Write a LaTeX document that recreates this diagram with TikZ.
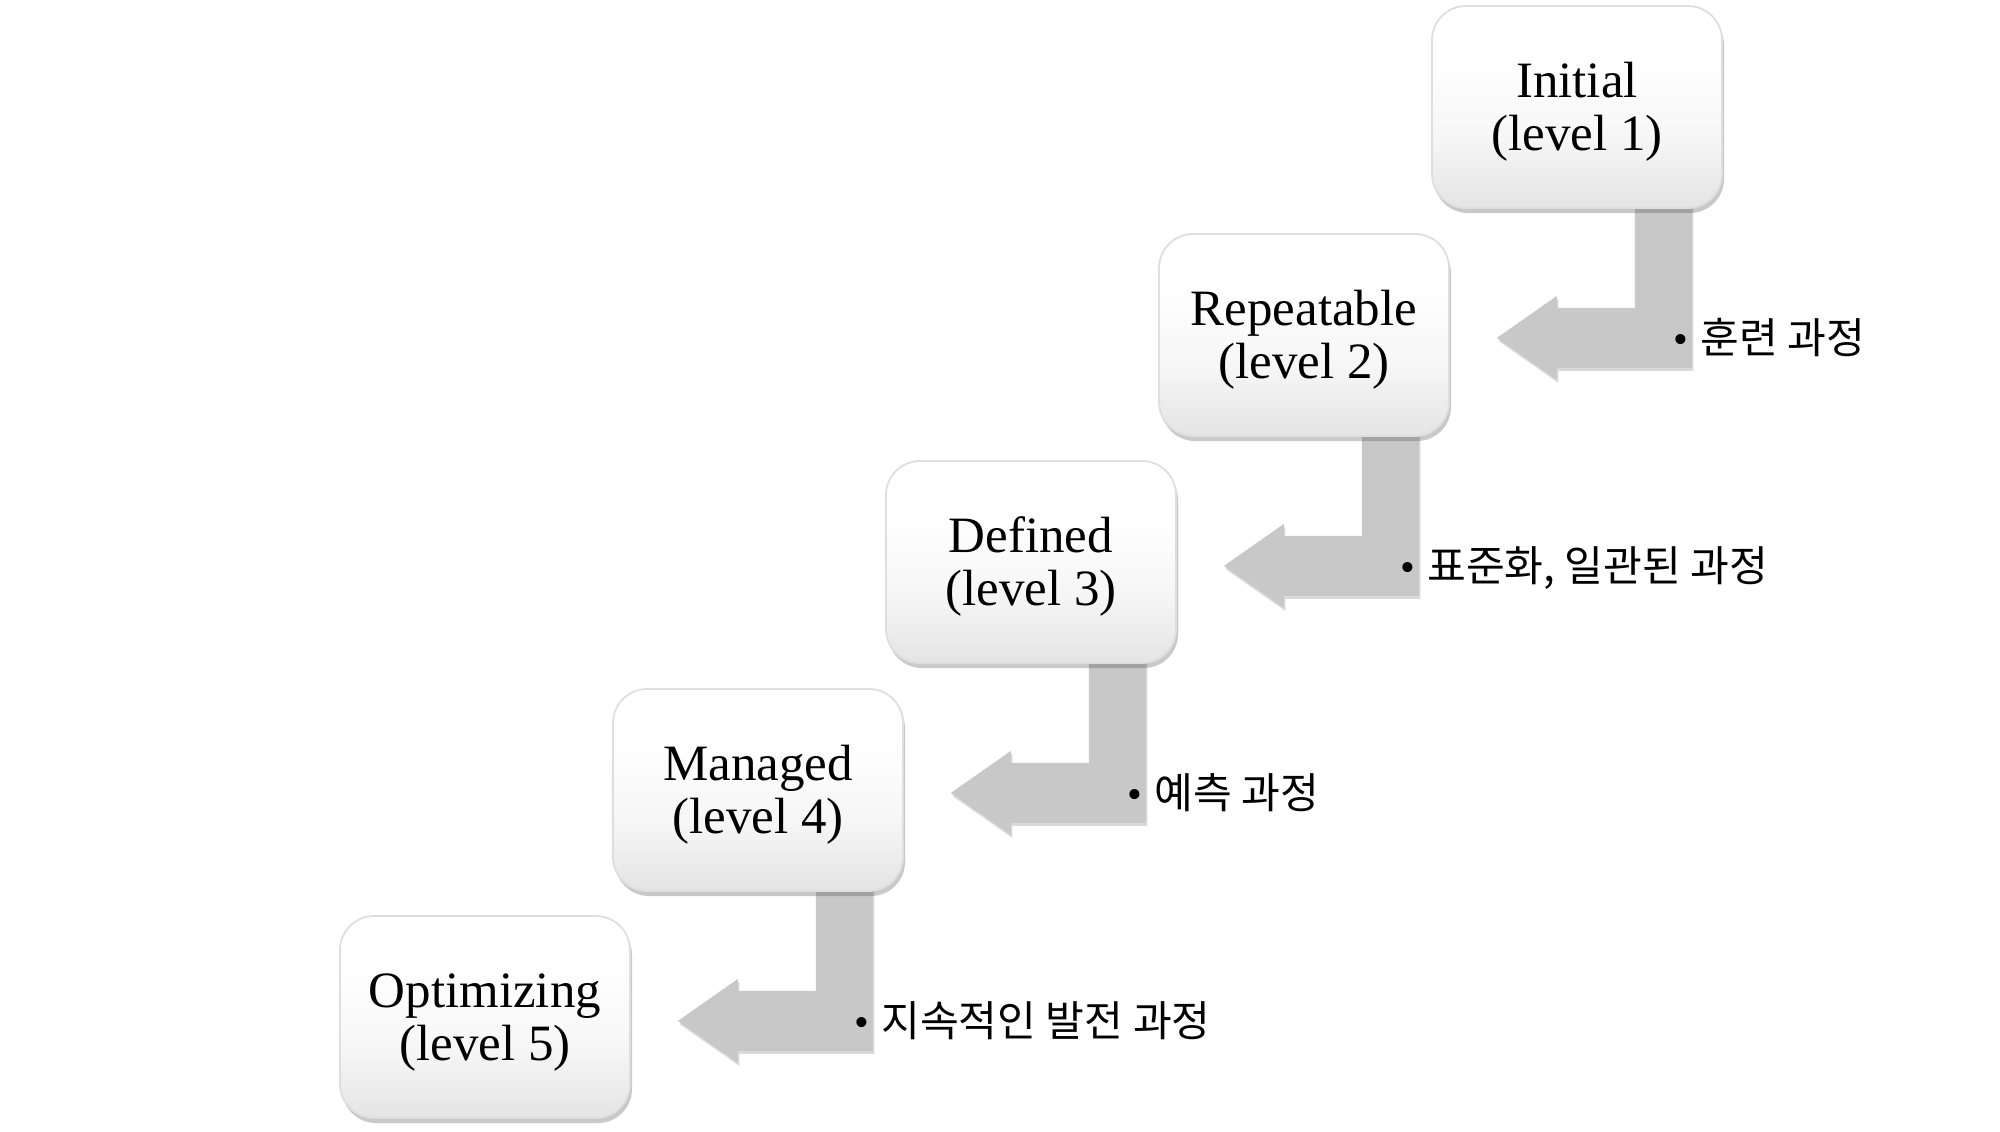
\documentclass[tikz,border=0pt]{standalone}
\usepackage{fontspec}
\setmainfont{Liberation Serif}
\newfontfamily\krfont{Noto Sans CJK KR}
\usetikzlibrary{calc,shadows,backgrounds}
\definecolor{arrowgray}{RGB}{200,200,200}
\definecolor{boxbottom}{RGB}{228,228,228}
\definecolor{boxmid}{RGB}{246,246,246}
\definecolor{boxedge}{RGB}{222,222,222}
\pgfdeclareverticalshading{boxshade}{100bp}{color(0bp)=(boxbottom); color(25bp)=(boxbottom); color(42bp)=(boxmid); color(62bp)=(white); color(100bp)=(white)}
\newcommand{\lift}{\rule{0pt}{0.45cm}}
\begin{document}
\begin{tikzpicture}[x=1cm,y=1cm,
  levelbox/.style={rounded corners=0.34cm, minimum width=2.9cm, minimum height=2.02cm,
    shading=boxshade, draw=boxedge, line width=0.5pt, align=center,
    font=\fontsize{14.5}{15.3}\selectfont, inner sep=0pt,
    drop shadow={shadow xshift=0.02cm, shadow yshift=-0.05cm, opacity=0.3, fill=black!70}},
  steparrow/.style={fill=arrowgray, draw=none,
    drop shadow={shadow xshift=0.015cm, shadow yshift=-0.03cm, opacity=0.25, fill=black!60}},
  note/.style={anchor=base west, inner sep=0pt, font=\fontsize{12}{12.5}\selectfont}]
\useasboundingbox (0,0) rectangle (20,-11.31);
\node[levelbox] (n1) at (15.77,-1.07) {\lift Initial\\(level 1)};
\node[levelbox] (n2) at (13.04,-3.35) {\lift Repeatable\\(level 2)};
\node[levelbox] (n3) at (10.31,-5.62) {\lift Defined\\(level 3)};
\node[levelbox] (n4) at (7.58,-7.90) {\lift Managed\\(level 4)};
\node[levelbox] (n5) at (4.85,-10.17) {\lift Optimizing\\(level 5)};
\begin{scope}[on background layer]
\foreach \a/\b/\t in {n1/n2/{훈련 과정}, n2/n3/{표준화, 일관된 과정}, n3/n4/{예측 과정}, n4/n5/{지속적인 발전 과정}}{
  \draw[steparrow] ($(\a.south east)+(-0.31,0.3)$) -- ++(0,-1.89) -- ++(-1.35,0) -- ++(0,-0.12)
    -- ++(-0.60,0.42) -- ++(0.60,0.42) -- ++(0,-0.12) -- ++(0.78,0) -- ++(0,1.29) -- cycle;
}
\end{scope}
\node[note] (t1) at ($(n1.south east)+(-0.50,-1.45)$) {•\hspace{0.12cm}{\krfont 훈련 과정}};
\node[note] (t2) at ($(n2.south east)+(-0.50,-1.45)$) {•\hspace{0.12cm}{\krfont 표준화, 일관된 과정}};
\node[note] (t3) at ($(n3.south east)+(-0.50,-1.45)$) {•\hspace{0.12cm}{\krfont 예측 과정}};
\node[note] (t4) at ($(n4.south east)+(-0.50,-1.45)$) {•\hspace{0.12cm}{\krfont 지속적인 발전 과정}};
\end{tikzpicture}
\end{document}
